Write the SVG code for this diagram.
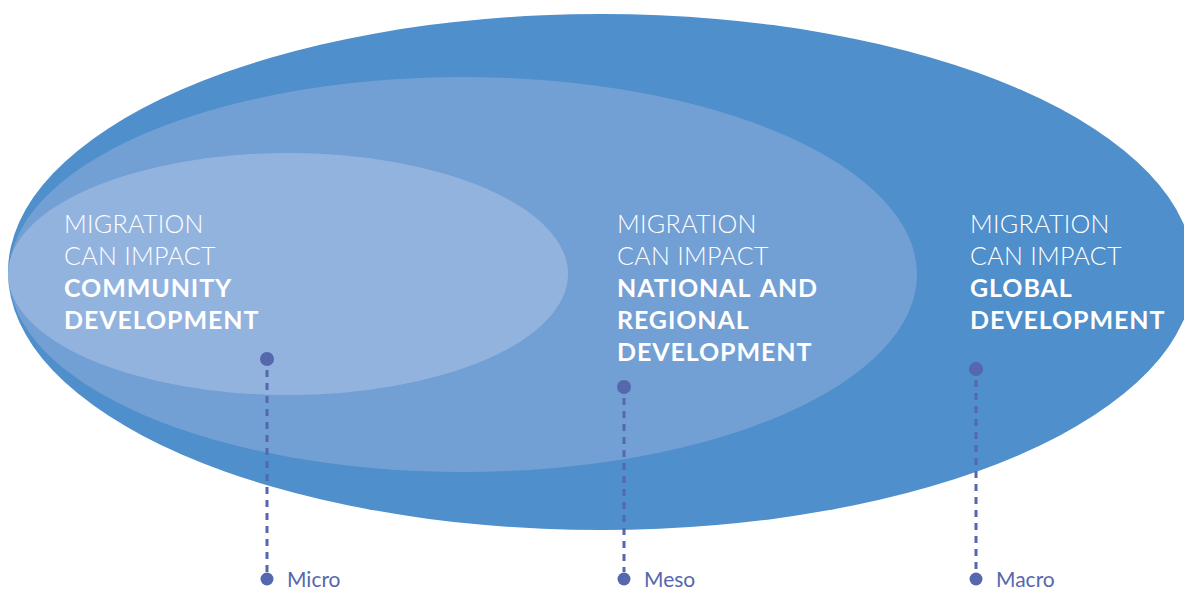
<svg xmlns="http://www.w3.org/2000/svg" width="1184" height="589" viewBox="0 0 1184 589">
<style>
.t{font-family:Lato,"Liberation Sans",sans-serif;font-size:25px;fill:#ffffff}
.l{font-weight:300;letter-spacing:0.3px}
.b{font-weight:700;letter-spacing:0.9px;word-spacing:3px}
.lab{font-family:Lato,"Liberation Sans",sans-serif;font-size:21px;font-weight:400;fill:#5567ad}
.dot{fill:#5567ad}
.dash{stroke:#5567ad;stroke-width:3;stroke-dasharray:7 6;fill:none}
</style>
<rect width="1184" height="589" fill="#ffffff"/>
<g id="macro-ellipse"><ellipse cx="601" cy="272" rx="593" ry="258" fill="#4f8fcb"/></g>
<g id="meso-ellipse"><ellipse cx="463" cy="274.5" rx="454" ry="197.5" fill="#72a0d4"/></g>
<g id="micro-ellipse"><ellipse cx="288" cy="274" rx="280" ry="121" fill="#93b3df"/></g>
<g id="community-text">
<text class="t"><tspan class="l" x="64" y="233">MIGRATION</tspan><tspan class="l" x="64" y="265">CAN IMPACT</tspan><tspan class="b" x="64" y="297">COMMUNITY</tspan><tspan class="b" x="64" y="329">DEVELOPMENT</tspan></text>
</g>
<g id="national-text">
<text class="t"><tspan class="l" x="617" y="233">MIGRATION</tspan><tspan class="l" x="617" y="265">CAN IMPACT</tspan><tspan class="b" x="617" y="297">NATIONAL AND</tspan><tspan class="b" x="617" y="329">REGIONAL</tspan><tspan class="b" x="617" y="361">DEVELOPMENT</tspan></text>
</g>
<g id="global-text">
<text class="t"><tspan class="l" x="970" y="233">MIGRATION</tspan><tspan class="l" x="970" y="265">CAN IMPACT</tspan><tspan class="b" x="970" y="297">GLOBAL</tspan><tspan class="b" x="970" y="329">DEVELOPMENT</tspan></text>
</g>
<g id="connectors">
<line class="dash" x1="267" y1="370" x2="267" y2="572"/>
<line class="dash" x1="624" y1="398" x2="624" y2="572"/>
<line class="dash" x1="976" y1="380" x2="976" y2="572"/>
</g>
<g id="micro-label">
<circle class="dot" cx="267" cy="359" r="7"/>
<circle class="dot" cx="267" cy="579" r="6.5"/>
<text class="lab" x="287" y="587">Micro</text>
</g>
<g id="meso-label">
<circle class="dot" cx="624" cy="387" r="7"/>
<circle class="dot" cx="624" cy="579" r="6.5"/>
<text class="lab" x="644" y="587">Meso</text>
</g>
<g id="macro-label">
<circle class="dot" cx="976" cy="369" r="7"/>
<circle class="dot" cx="976" cy="579" r="6.5"/>
<text class="lab" x="996" y="587">Macro</text>
</g>
</svg>
